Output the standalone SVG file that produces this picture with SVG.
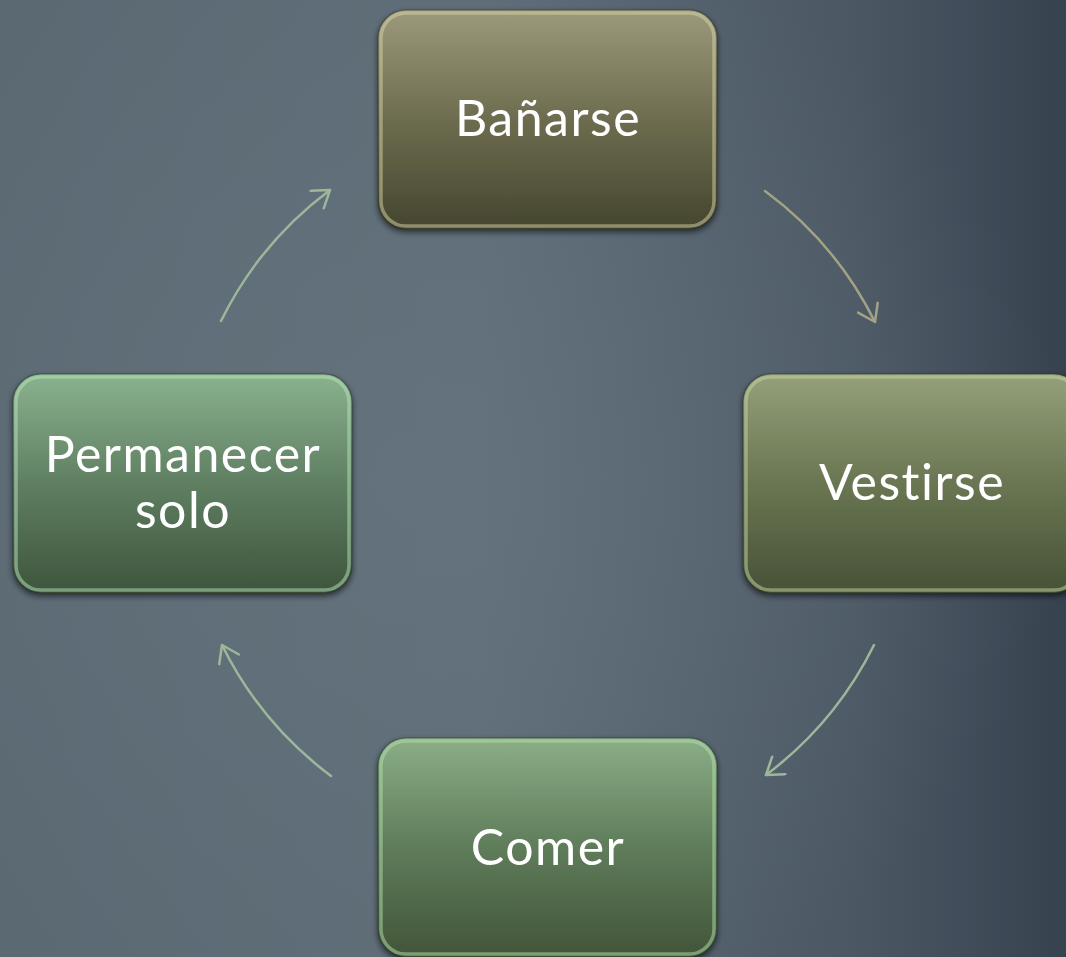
<svg xmlns="http://www.w3.org/2000/svg" width="1066" height="957" viewBox="0 0 1066 957">
<defs>
<linearGradient id="bg" x1="0" y1="0" x2="1" y2="0">
<stop offset="0" stop-color="#5b6973"/>
<stop offset="0.45" stop-color="#5f6d78"/>
<stop offset="0.8" stop-color="#4b5864"/>
<stop offset="1" stop-color="#37424f"/>
</linearGradient>
<radialGradient id="bgglow" cx="0.4" cy="0.5" r="0.6">
<stop offset="0" stop-color="#6a7883" stop-opacity="0.5"/>
<stop offset="1" stop-color="#6a7883" stop-opacity="0"/>
</radialGradient>
<linearGradient id="gOlive" x1="0" y1="0" x2="0" y2="1">
<stop offset="0" stop-color="#9c9a7b"/>
<stop offset="0.5" stop-color="#6d6c4f"/>
<stop offset="1" stop-color="#45462f"/>
</linearGradient>
<linearGradient id="gOliveGreen" x1="0" y1="0" x2="0" y2="1">
<stop offset="0" stop-color="#93a07a"/>
<stop offset="0.5" stop-color="#6a7652"/>
<stop offset="1" stop-color="#465236"/>
</linearGradient>
<linearGradient id="gGreen" x1="0" y1="0" x2="0" y2="1">
<stop offset="0" stop-color="#8ab28e"/>
<stop offset="0.5" stop-color="#5f7f62"/>
<stop offset="1" stop-color="#3e553d"/>
</linearGradient>
<linearGradient id="gGreen2" x1="0" y1="0" x2="0" y2="1">
<stop offset="0" stop-color="#8aae86"/>
<stop offset="0.5" stop-color="#5f7c5a"/>
<stop offset="1" stop-color="#425538"/>
</linearGradient>
<filter id="shadow" x="-10%" y="-10%" width="120%" height="125%">
<feGaussianBlur in="SourceAlpha" stdDeviation="3"/>
<feOffset dx="0" dy="3" result="b"/>
<feComponentTransfer><feFuncA type="linear" slope="0.6"/></feComponentTransfer>
<feMerge><feMergeNode/><feMergeNode in="SourceGraphic"/></feMerge>
</filter>
<marker id="ahOlive" markerWidth="24" markerHeight="24" refX="22" refY="12" orient="auto" markerUnits="userSpaceOnUse">
<path d="M6,1 L22,12 L6,23" fill="none" stroke="#a4a285" stroke-width="2.5" stroke-linecap="round" stroke-linejoin="round"/>
</marker>
<marker id="ahGreen" markerWidth="24" markerHeight="24" refX="22" refY="12" orient="auto" markerUnits="userSpaceOnUse">
<path d="M6,1 L22,12 L6,23" fill="none" stroke="#9db79b" stroke-width="2.5" stroke-linecap="round" stroke-linejoin="round"/>
</marker>
</defs>
<style>
.lbl{font-family:"Lato","Open Sans","Liberation Sans",sans-serif;font-weight:400;font-size:50px;letter-spacing:1.5px;font-variant-ligatures:none;fill:#ffffff;text-anchor:middle}
.rim{fill:none;stroke-width:3.5;stroke-opacity:0.5}
.edge{stroke:#1e2a1e;stroke-opacity:0.45;stroke-width:1.2;fill:none}
.conn{fill:none;stroke-width:2.5;stroke-linecap:round}
</style>
<rect x="0" y="0" width="1066" height="957" fill="url(#bg)"/>
<rect x="0" y="0" width="1066" height="957" fill="url(#bgglow)"/>

<g id="connectors">
<path class="conn" d="M765,191 A365,365 0 0 1 875,322" stroke="#a4a285" marker-end="url(#ahOlive)"/>
<path class="conn" d="M874,645 A365,365 0 0 1 766,775" stroke="#9db79b" marker-end="url(#ahGreen)"/>
<path class="conn" d="M331,776 A365,365 0 0 1 222,645" stroke="#9db79b" marker-end="url(#ahGreen)"/>
<path class="conn" d="M221,321 A365,365 0 0 1 330,190" stroke="#9db79b" marker-end="url(#ahGreen)"/>
</g>

<g id="node-banarse" filter="url(#shadow)">
<rect x="378" y="10" width="339" height="219" rx="28" fill="url(#gOlive)"/>
<rect x="381" y="13" width="333" height="213" rx="25" class="rim" stroke="#d8d6a8"/>
<rect x="378" y="10" width="339" height="219" rx="28" class="edge"/>
<text class="lbl" x="548" y="136">Bañarse</text>
</g>

<g id="node-vestirse" filter="url(#shadow)">
<rect x="743" y="374" width="339" height="219" rx="28" fill="url(#gOliveGreen)"/>
<rect x="746" y="377" width="333" height="213" rx="25" class="rim" stroke="#c8d6a4"/>
<rect x="743" y="374" width="339" height="219" rx="28" class="edge"/>
<text class="lbl" x="912" y="500">Vestirse</text>
</g>

<g id="node-permanecer" filter="url(#shadow)">
<rect x="13" y="374" width="339" height="219" rx="28" fill="url(#gGreen)"/>
<rect x="16" y="377" width="333" height="213" rx="25" class="rim" stroke="#b8e6ba"/>
<rect x="13" y="374" width="339" height="219" rx="28" class="edge"/>
<text class="lbl" x="183" y="472">Permanecer</text>
<text class="lbl" x="183" y="528">solo</text>
</g>

<g id="node-comer" filter="url(#shadow)">
<rect x="378" y="738" width="339" height="219" rx="28" fill="url(#gGreen2)"/>
<rect x="381" y="741" width="333" height="213" rx="25" class="rim" stroke="#b4e2ae"/>
<rect x="378" y="738" width="339" height="219" rx="28" class="edge"/>
<text class="lbl" x="548" y="865">Comer</text>
</g>
</svg>
